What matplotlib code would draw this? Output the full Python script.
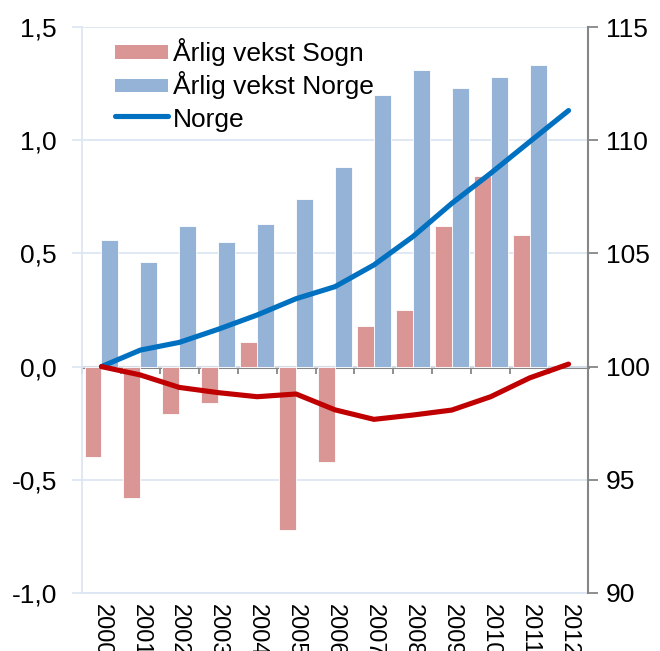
import numpy as np
import matplotlib
matplotlib.use("Agg")
import matplotlib.pyplot as plt
from matplotlib.patches import Patch, Rectangle
from matplotlib.lines import Line2D
from matplotlib.legend_handler import HandlerPatch

plt.rcParams['font.family'] = ['Liberation Sans', 'DejaVu Sans']
plt.rcParams['font.size'] = 19

years = ['2000', '2001', '2002', '2003', '2004', '2005', '2006',
         '2007', '2008', '2009', '2010', '2011', '2012']
vekst_sogn = [-0.40, -0.58, -0.21, -0.16, 0.11, -0.72, -0.42,
              0.18, 0.25, 0.62, 0.84, 0.58]
vekst_norge = [0.56, 0.46, 0.62, 0.55, 0.63, 0.74, 0.88,
               1.20, 1.31, 1.23, 1.28, 1.33]
indeks_norge = [100.0, 100.73, 101.07, 101.65, 102.28, 103.0, 103.53,
                104.49, 105.74, 107.21, 108.54, 109.93, 111.31]
indeks_sogn = [100.0, 99.63, 99.08, 98.85, 98.67, 98.79, 98.09,
               97.67, 97.86, 98.08, 98.67, 99.50, 100.11]
left_ticks = [-1.0, -0.5, 0.0, 0.5, 1.0, 1.5]
left_labels = ['-1,0', '-0,5', '0,0', '0,5', '1,0', '1,5']
right_ticks = [90, 95, 100, 105, 110, 115]

c_sogn_bar = '#D99694'
c_norge_bar = '#95B3D7'
c_norge_line = '#0070C0'
c_sogn_line = '#C00000'
c_grid = '#DCE6F2'
c_gray = '#868686'


class ThinBar(HandlerPatch):
    def create_artists(self, legend, orig_handle, xdescent, ydescent,
                       width, height, fontsize, trans):
        h = 0.5 * fontsize
        r = Rectangle((-xdescent, -ydescent + (height - h) / 2), width, h,
                      facecolor=orig_handle.get_facecolor(), edgecolor='none',
                      transform=trans)
        return [r]


fig = plt.figure(figsize=(6.6, 6.51), dpi=100)
ax = fig.add_axes([82/660, 1 - 593/651, 506/660, 566/651])

x = np.arange(len(years))
xb = np.arange(len(vekst_sogn))
w = 0.435
ax.bar(xb - w/2, vekst_sogn, width=w, color=c_sogn_bar, edgecolor='white',
       linewidth=0.6, zorder=2)
ax.bar(xb + w/2, vekst_norge, width=w, color=c_norge_bar, edgecolor='white',
       linewidth=0.6, zorder=2)

ax.set_xlim(-0.5, len(years) - 0.5)
ax.set_ylim(-1.0, 1.5)
ax.set_yticks(left_ticks)
ax.set_yticklabels(left_labels)
ax.set_xticks(x)
ax.set_xticklabels(years, rotation=270, va='top', ha='center', fontsize=17)
ax.tick_params(axis='x', length=0, pad=8)
ax.tick_params(axis='y', length=7, width=1.2, color=c_grid, pad=11)
ax.set_axisbelow(True)
ax.yaxis.grid(True, color=c_grid, linewidth=1.3)
for s in ['top', 'right']:
    ax.spines[s].set_visible(False)
for s in ['left', 'bottom']:
    ax.spines[s].set_color(c_grid)
    ax.spines[s].set_linewidth(1.3)

# zero line with category-boundary ticks
sec = ax.secondary_xaxis(0.4)
sec.set_xticks(np.arange(-0.5, len(years), 1.0))
sec.tick_params(direction='out', length=5, width=1.3, color=c_gray,
                labelbottom=False)
sec.spines['bottom'].set_color(c_gray)
sec.spines['bottom'].set_linewidth(2.2)

ax2 = ax.twinx()
ax2.plot(x, indeks_norge, color=c_norge_line, linewidth=3.7,
         solid_capstyle='round', zorder=3)
ax2.plot(x, indeks_sogn, color=c_sogn_line, linewidth=3.7,
         solid_capstyle='round', zorder=3)
ax2.set_ylim(90, 115)
ax2.set_yticks(right_ticks)
ax2.tick_params(axis='y', length=7, width=1.3, color=c_gray, pad=6)
for s in ['top', 'left', 'bottom']:
    ax2.spines[s].set_visible(False)
ax2.spines['right'].set_color(c_gray)
ax2.spines['right'].set_linewidth(1.5)

handles = [Patch(facecolor=c_sogn_bar, edgecolor='none'),
           Patch(facecolor=c_norge_bar, edgecolor='none'),
           Line2D([], [], color=c_norge_line, linewidth=3.7,
                  solid_capstyle='round')]
labels = ['Årlig vekst Sogn', 'Årlig vekst Norge', 'Norge']
ax2.legend(handles, labels, loc='upper left', bbox_to_anchor=(0.055, 0.99),
           frameon=False, borderaxespad=0, borderpad=0.2, handlelength=2.0,
           handleheight=1.25, handletextpad=0.2, labelspacing=0.19,
           handler_map={Patch: ThinBar()})

fig.savefig('out.png', dpi=100)
